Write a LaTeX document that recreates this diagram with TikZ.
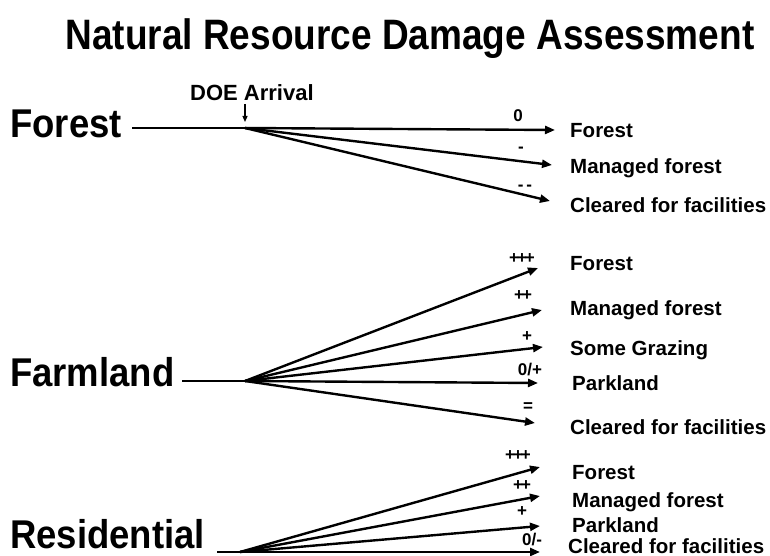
\documentclass[tikz,border=0pt]{standalone}
\usepackage{fontspec}
\setmainfont{Liberation Sans}
\usetikzlibrary{arrows.meta}
\begin{document}
\begin{tikzpicture}[x=1pt,y=-1pt,
  conn/.style={line width=2.4pt,-{Triangle[length=10pt,width=8pt]}},
  stem/.style={line width=2.4pt},
  doearrow/.style={line width=1.2pt,-{Triangle[length=6pt,width=5pt]}},
  titletext/.style={font=\fontsize{37}{40}\selectfont\bfseries,inner sep=0pt,anchor=base},
  bigtext/.style={font=\fontsize{36.5}{40}\selectfont\bfseries,inner sep=0pt,anchor=base west},
  labtext/.style={font=\fontsize{20.5}{22}\selectfont\bfseries,inner sep=0pt,anchor=base west},
  doetext/.style={font=\fontsize{22}{24}\selectfont\bfseries,inner sep=0pt,anchor=base west},
  signtext/.style={font=\fontsize{17}{18}\selectfont\bfseries,inner sep=0pt,anchor=center}]
\useasboundingbox (0,0) rectangle (770,556);

\node[titletext] (title) at (410,50) {\scalebox{1}[1.15]{Natural Resource Damage Assessment}};

% ---------- Forest ----------
\node[bigtext] (forestL) at (10,138) {\scalebox{1}[1.1]{Forest}};
\coordinate (fs) at (132,128);
\coordinate (fo) at (245,128);
\node[doetext] (doe) at (190,101) {DOE Arrival};
\coordinate (doeA) at (245,104);
\coordinate (doeB) at (245,122);
\draw[doearrow] (doeA) -- (doeB);
\draw[stem] (fs) -- (fo);
\coordinate (fe1) at (555,130);
\coordinate (fe2) at (552,165);
\coordinate (fe3) at (550,201);
\draw[conn] (fo) -- (fe1);
\draw[conn] (fo) -- (fe2);
\draw[conn] (fo) -- (fe3);
\node[signtext] (fs1) at (518,116) {0};
\node[signtext] (fs2) at (521,150) {-};
\node[signtext] (fs3) at (525,188) {-\,-};
\node[labtext] (fl1) at (570,138) {Forest};
\node[labtext] (fl2) at (570,174) {Managed forest};
\node[labtext] (fl3) at (570,212) {Cleared for facilities};

% ---------- Farmland ----------
\node[bigtext] (farmL) at (10,386) {\scalebox{1}[1.1]{Farmland}};
\coordinate (ms) at (182,381);
\coordinate (mo) at (245,381);
\draw[stem] (ms) -- (mo);
\coordinate (me1) at (538,268);
\coordinate (me2) at (542,310);
\coordinate (me3) at (543,347);
\coordinate (me4) at (538,383);
\coordinate (me5) at (535,423);
\draw[conn] (mo) -- (me1);
\draw[conn] (mo) -- (me2);
\draw[conn] (mo) -- (me3);
\draw[conn] (mo) -- (me4);
\draw[conn] (mo) -- (me5);
\node[signtext] (ms1) at (522,259) {+\kern-2pt+\kern-2pt+};
\node[signtext] (ms2) at (523,296) {+\kern-2pt+};
\node[signtext] (ms3) at (527,337) {+};
\node[signtext] (ms4) at (530,370) {0/+};
\node[signtext] (ms5) at (528,407) {=};
\node[labtext] (ml1) at (570,270) {Forest};
\node[labtext] (ml2) at (570,315) {Managed forest};
\node[labtext] (ml3) at (570,355) {Some Grazing};
\node[labtext] (ml4) at (572,390) {Parkland};
\node[labtext] (ml5) at (570,434) {Cleared for facilities};

% ---------- Residential ----------
\node[bigtext] (resL) at (10,548) {\scalebox{1}[1.1]{Residential}};
\coordinate (rs) at (217,552);
\coordinate (ro) at (240,552);
\draw[stem] (rs) -- (ro);
\coordinate (re1) at (540,467);
\coordinate (re2) at (540,496);
\coordinate (re3) at (540,526);
\coordinate (re4) at (540,552);
\draw[conn] (ro) -- (re1);
\draw[conn] (ro) -- (re2);
\draw[conn] (ro) -- (re3);
\draw[conn] (ro) -- (re4);
\node[signtext] (rs1) at (518,456) {+\kern-2pt+\kern-2pt+};
\node[signtext] (rs2) at (522,486) {+\kern-2pt+};
\node[signtext] (rs3) at (522,512) {+};
\node[signtext] (rs4) at (532,540) {0/-};
\node[labtext] (rl1) at (572,479) {Forest};
\node[labtext] (rl2) at (572,507) {Managed forest};
\node[labtext] (rl3) at (572,532) {Parkland};
\node[labtext] (rl4) at (568,553) {Cleared for facilities};
\end{tikzpicture}
\end{document}
